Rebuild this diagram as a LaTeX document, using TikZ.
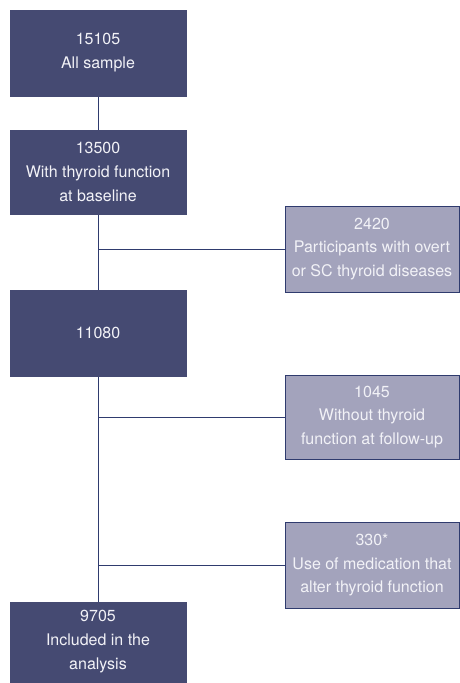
\documentclass[tikz,border=0pt]{standalone}
\usepackage{fontspec}
\setmainfont{TeX Gyre Heros}
\usetikzlibrary{positioning}
\definecolor{navybox}{HTML}{454A72}
\definecolor{greybox}{HTML}{A3A3BC}
\definecolor{navyline}{HTML}{2F3B6E}
\definecolor{boxtext}{HTML}{F2F2F7}

\begin{document}
\begin{tikzpicture}[x=1pt,y=-1pt,
	mainbox/.style={fill=navybox,draw=navybox,text=boxtext,minimum width=176pt,inner sep=0pt,align=center,font=\fontsize{16}{24}\selectfont},
	exclbox/.style={fill=greybox,draw=navyline,line width=0.9pt,text=boxtext,minimum width=174pt,minimum height=86pt,inner sep=0pt,align=center,font=\fontsize{16}{23.5}\selectfont},
	link/.style={draw=navyline,line width=1pt}]
\useasboundingbox (0,0) rectangle (459,683);
% flow lines
\path (98,53) coordinate (c1) (98,172) coordinate (c2) (98,333) coordinate (c3) (98,642) coordinate (c4);
\path[link] (c1) -- (c2) (c2) -- (c3) (c3) -- (c4);
% main boxes
\path (c1) node[mainbox,minimum height=86pt] (all) {15105\\All sample};
\path (c2) node[mainbox,minimum height=84pt] (base) {13500\\With thyroid function\\at baseline};
\path (c3) node[mainbox,minimum height=86pt] (mid) {11080};
\path (c4) node[mainbox,minimum height=80pt] (incl) {9705\\Included in the\\analysis};
% excluded
\path (372,249) node[exclbox] (ex1) {2420\\Participants with overt\\or SC thyroid diseases};
\path (372,417) node[exclbox,minimum height=84pt] (ex2) {1045\\Without thyroid\\function at follow-up};
\path (372,565) node[exclbox] (ex3) {330*\\Use of medication that\\alter thyroid function};
\path[link] (base.south |- ex1.west) -- (ex1.west)
	(mid.south |- ex2.west) -- (ex2.west)
	(mid.south |- ex3.west) -- (ex3.west);
\end{tikzpicture}
\end{document}
